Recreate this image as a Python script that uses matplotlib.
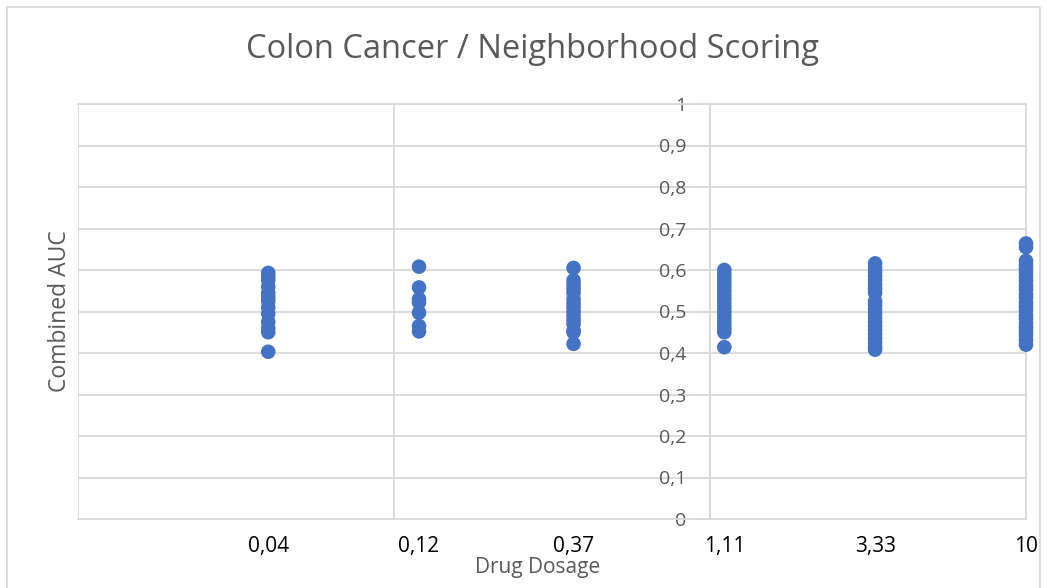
import matplotlib
matplotlib.use("Agg")
import matplotlib.pyplot as plt
from matplotlib.ticker import FixedLocator, NullFormatter
from matplotlib.patches import Rectangle

plt.rcParams['font.family'] = ['Open Sans', 'DejaVu Sans']

# ---- data ----
dosages = [0.04, 0.12, 0.37, 1.11, 3.33, 10]
dosage_labels = ["0,04", "0,12", "0,37", "1,11", "3,33", "10"]
auc_004 = [0.593, 0.585, 0.575, 0.56, 0.545, 0.535, 0.525, 0.51, 0.495, 0.475, 0.46, 0.45, 0.403]
auc_012 = [0.608, 0.558, 0.530, 0.522, 0.497, 0.465, 0.452]
auc_037 = [0.605, 0.575, 0.565, 0.555, 0.545, 0.53, 0.52, 0.51, 0.50, 0.49, 0.48, 0.47, 0.455, 0.45, 0.422]
auc_111 = [0.60, 0.59, 0.58, 0.57, 0.56, 0.55, 0.54, 0.53, 0.52, 0.51, 0.50, 0.49, 0.48, 0.47, 0.46, 0.45, 0.414]
auc_333 = [0.616, 0.605, 0.595, 0.585, 0.575, 0.565, 0.555, 0.545, 0.525, 0.515, 0.505, 0.495,
           0.485, 0.475, 0.465, 0.455, 0.445, 0.435, 0.425, 0.415, 0.408]
auc_10 = [0.664, 0.655, 0.622, 0.612, 0.603, 0.594, 0.583, 0.574, 0.562, 0.553, 0.541, 0.533,
          0.521, 0.512, 0.503, 0.491, 0.483, 0.471, 0.462, 0.452, 0.443, 0.431, 0.42]
auc_series = [auc_004, auc_012, auc_037, auc_111, auc_333, auc_10]
y_ticks = [0, 0.1, 0.2, 0.3, 0.4, 0.5, 0.6, 0.7, 0.8, 0.9, 1]
y_tick_labels = ["0", "0,1", "0,2", "0,3", "0,4", "0,5", "0,6", "0,7", "0,8", "0,9", "1"]
decade_lines = [0.01, 0.1, 1, 10]

W, H = 1047, 588
fig = plt.figure(figsize=(W / 100, H / 100), dpi=100)
ax = fig.add_axes([78 / W, 1 - 519 / H, (1026 - 78) / W, (519 - 104) / H])

grid_c = '#D9D9D9'
blue = '#4472C4'

for d, vals in zip(dosages, auc_series):
    ax.scatter([d] * len(vals), vals, s=110, color=blue, edgecolors='none', zorder=3, clip_on=False)

ax.set_xscale('log')
ax.set_xlim(0.01, 10)
ax.set_ylim(0, 1)

ax.set_xticks(dosages)
ax.set_xticklabels(dosage_labels)
ax.xaxis.set_minor_locator(FixedLocator(decade_lines))
ax.xaxis.set_minor_formatter(NullFormatter())
ax.tick_params(axis='x', which='both', length=0, pad=12, labelsize=15, labelcolor='black')
ax.grid(True, which='minor', axis='x', color=grid_c, linewidth=1.3)
ax.grid(False, which='major', axis='x')

ax.set_yticks(y_ticks)
ax.set_yticklabels(y_tick_labels)
ax.tick_params(axis='y', which='major', length=6, width=1.3, color=grid_c, labelsize=14,
               labelcolor='#595959', pad=11)
ax.grid(True, which='major', axis='y', color=grid_c, linewidth=1.3)
ax.set_axisbelow(True)

ax.spines['left'].set_position(('data', 1))
for sp in ax.spines.values():
    sp.set_color(grid_c)
    sp.set_linewidth(1.3)

fig.text(532 / W, 1 - 50 / H, "Colon Cancer / Neighborhood Scoring", ha='center', va='center',
         fontsize=23.5, color='#595959')
fig.text(538 / W, 1 - 568 / H, "Drug Dosage", ha='center', va='center', fontsize=15, color='#595959')
fig.text(60 / W, 1 - 311 / H, "Combined AUC", ha='center', va='center', fontsize=16.5,
         color='#595959', rotation=90)

fig.patches.append(Rectangle((7 / W, -0.01), (1040 - 7) / W, 1 - 7 / H + 0.01, transform=fig.transFigure,
                             fill=False, edgecolor=grid_c, linewidth=1.3))

fig.savefig("out.png", dpi=100)
